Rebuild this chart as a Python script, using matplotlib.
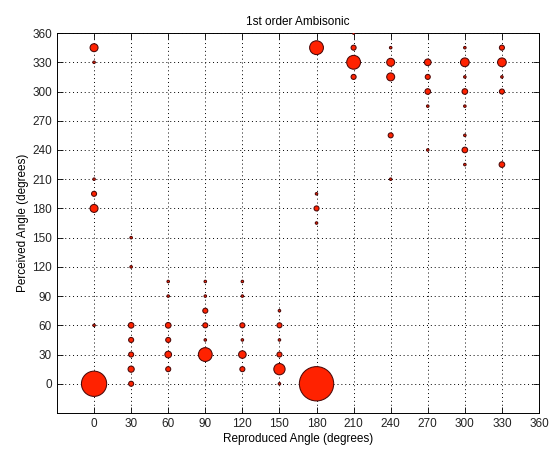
import matplotlib
matplotlib.use("Agg")
import matplotlib.pyplot as plt
import numpy as np

plt.rcParams['font.family'] = ['Liberation Sans', 'DejaVu Sans']

# reproduced angle, perceived angle, number of responses
reproduced = [0, 0, 0, 0, 0, 0, 0,
              30, 30, 30, 30, 30, 30, 30,
              60, 60, 60, 60, 60, 60,
              90, 90, 90, 90, 90, 90,
              120, 120, 120, 120, 120, 120,
              150, 150, 150, 150, 150, 150,
              180, 180, 180, 180, 180,
              210, 210, 210, 210,
              240, 240, 240, 240, 240,
              270, 270, 270, 270, 270,
              300, 300, 300, 300, 300, 300, 300, 300,
              330, 330, 330, 330, 330]
perceived = [345, 330, 210, 195, 180, 60, 0,
             150, 120, 60, 45, 30, 15, 0,
             105, 90, 60, 45, 30, 15,
             105, 90, 75, 60, 45, 30,
             105, 90, 60, 45, 30, 15,
             75, 60, 45, 30, 15, 0,
             345, 195, 180, 165, 0,
             360, 345, 330, 315,
             345, 330, 315, 255, 210,
             330, 315, 300, 285, 240,
             345, 330, 315, 300, 285, 255, 240, 225,
             345, 330, 315, 300, 225]
counts = [10, 1, 1, 4, 10, 1, 100,
          1, 1, 5, 4, 4, 6, 4,
          1, 1, 5, 4, 7, 4,
          1, 1, 4, 4, 1, 30,
          1, 1, 4, 1, 9, 4,
          1, 4, 1, 4, 20, 1,
          30, 1, 4, 1, 185,
          1, 4, 30, 4,
          1, 10, 10, 4, 1,
          7, 4, 5, 1, 1,
          1, 12, 1, 5, 1, 1, 5, 1,
          4, 12, 1, 4, 5]

ticks = np.arange(0, 361, 30)

fig = plt.figure(figsize=(5.5, 4.53), dpi=100)
ax = fig.add_axes([0.1036, 0.0883, 0.8764, 0.8387])

ax.scatter(reproduced, perceived, s=np.array(counts) * 3.3,
           facecolor='#ff2200', edgecolor='#4a0808', linewidth=0.75, zorder=3)

ax.set_xlim(-30, 360)
ax.set_ylim(-30, 360)
ax.set_xticks(ticks)
ax.set_yticks(ticks)
ax.grid(True, linestyle=(0, (1, 3)), color='black', linewidth=0.7)
ax.tick_params(direction='in', length=4, top=True, right=True, labelsize=8.5,
               width=0.6, labelcolor='#222222')
for sp in ax.spines.values():
    sp.set_linewidth(0.7)

ax.set_title('1st order Ambisonic', fontsize=8.5, pad=6)
ax.set_xlabel('Reproduced Angle (degrees)', fontsize=8.5, labelpad=2)
ax.set_ylabel('Perceived Angle (degrees)', fontsize=8.5, labelpad=2)

fig.savefig('out.png', dpi=100)
